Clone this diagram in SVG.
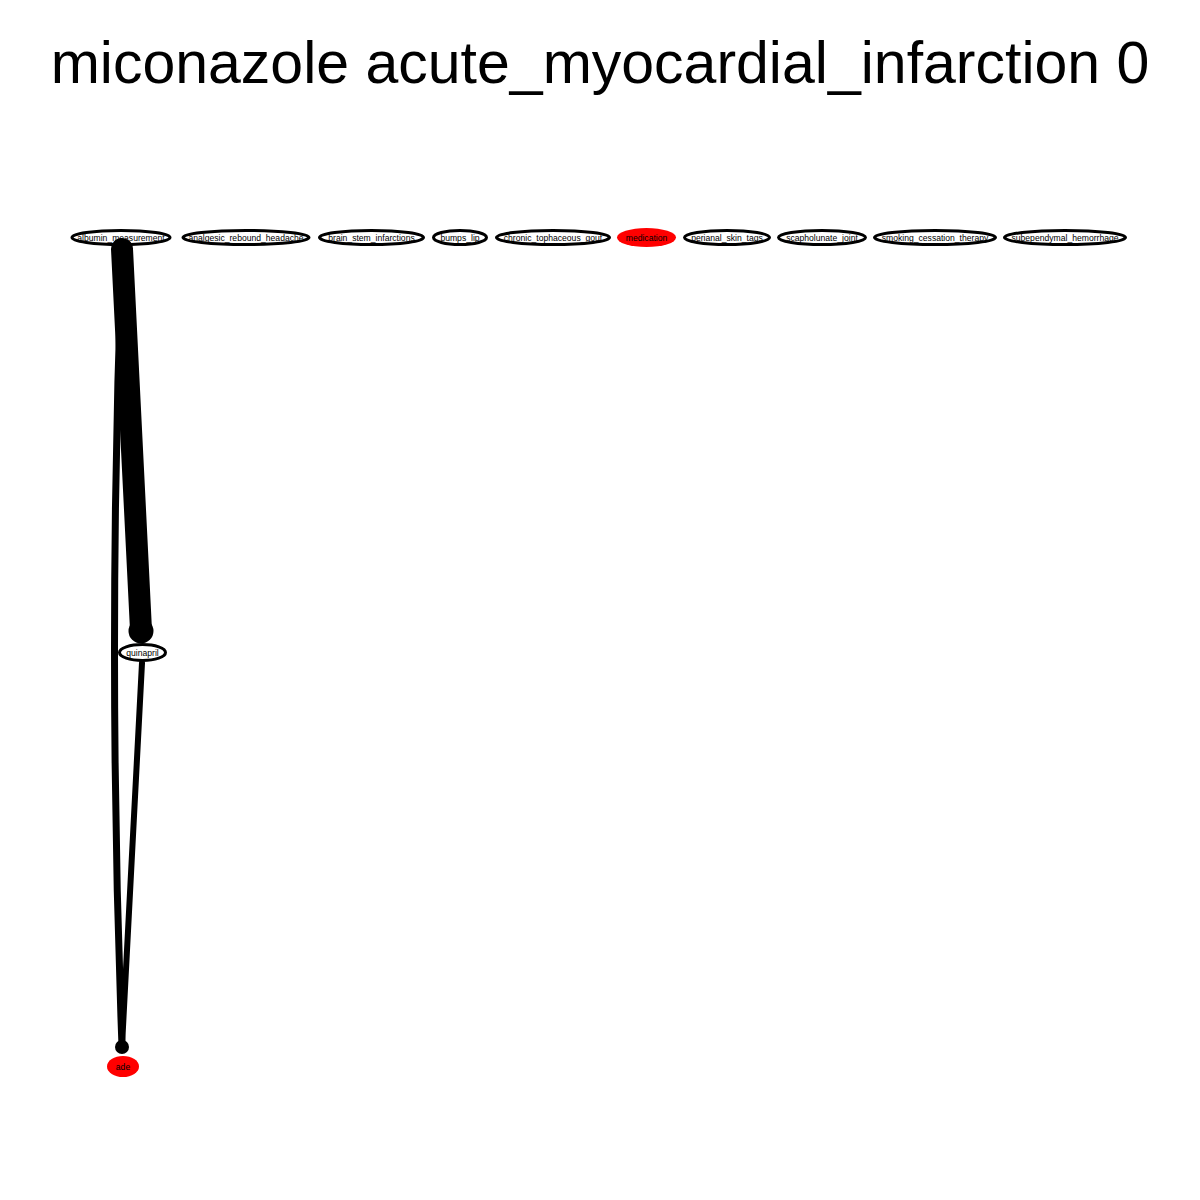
<svg xmlns="http://www.w3.org/2000/svg" width="1200" height="1200" viewBox="0 0 1200 1200">
<style>
.title{font-family:"Liberation Sans",Arial,sans-serif;font-size:59px;fill:#000;text-anchor:middle}
.lbl{font-family:"Liberation Sans",Arial,sans-serif;font-size:8.6px;fill:#000;text-anchor:middle;dominant-baseline:central}
.n{fill:#fff;stroke:#000;stroke-width:3}
.r{fill:#ff0000;stroke:none}
.e{fill:none;stroke:#000;stroke-linecap:round}
</style>
<rect width="1200" height="1200" fill="#fff"/>
<text class="title" x="600" y="83">miconazole acute_myocardial_infarction 0</text>
<g id="albumin_measurement"><ellipse class="n" cx="121" cy="237.5" rx="49" ry="7"/><text class="lbl" x="121" y="237.5">albumin_measurement</text></g>
<g id="analgesic_rebound_headache"><ellipse class="n" cx="246" cy="237.5" rx="63" ry="7"/><text class="lbl" x="246" y="237.5">analgesic_rebound_headache</text></g>
<g id="brain_stem_infarctions"><ellipse class="n" cx="371.5" cy="237.5" rx="52" ry="7"/><text class="lbl" x="371.5" y="237.5">brain_stem_infarctions</text></g>
<g id="bumps_lip"><ellipse class="n" cx="460" cy="237.5" rx="26.5" ry="7"/><text class="lbl" x="460" y="237.5">bumps_lip</text></g>
<g id="chronic_tophaceous_gout"><ellipse class="n" cx="553" cy="237.5" rx="56.5" ry="7"/><text class="lbl" x="553" y="237.5">chronic_tophaceous_gout</text></g>
<g id="medication"><ellipse class="r" cx="646.5" cy="237.5" rx="29.5" ry="9.5"/><text class="lbl" x="646.5" y="237.5">medication</text></g>
<g id="perianal_skin_tags"><ellipse class="n" cx="727" cy="237.5" rx="42.5" ry="7"/><text class="lbl" x="727" y="237.5">perianal_skin_tags</text></g>
<g id="scapholunate_joint"><ellipse class="n" cx="822" cy="237.5" rx="43.5" ry="7"/><text class="lbl" x="822" y="237.5">scapholunate_joint</text></g>
<g id="smoking_cessation_therapy"><ellipse class="n" cx="935" cy="237.5" rx="60.5" ry="7"/><text class="lbl" x="935" y="237.5">smoking_cessation_therapy</text></g>
<g id="subependymal_hemorrhage"><ellipse class="n" cx="1065" cy="237.5" rx="60.5" ry="7"/><text class="lbl" x="1065" y="237.5">subependymal_hemorrhage</text></g>
<g id="quinapril"><ellipse class="n" cx="142.5" cy="652.5" rx="23" ry="8" stroke-width="2.5"/><text class="lbl" x="142.5" y="652.5">quinapril</text></g>
<g id="ade"><ellipse class="r" cx="123" cy="1066.5" rx="16" ry="10.5"/><text class="lbl" x="123" y="1066.5">ade</text></g>
<g id="edges">
<path class="e" d="M122,252 Q107,650 122,1046" stroke-width="7"/>
<path class="e" d="M142,663 L122,1046" stroke-width="6"/>
<circle cx="122" cy="1047" r="7"/>
<path class="e" d="M122,249 L141,630" stroke-width="22"/>
<circle cx="141" cy="631" r="12.5"/>
</g>
</svg>
